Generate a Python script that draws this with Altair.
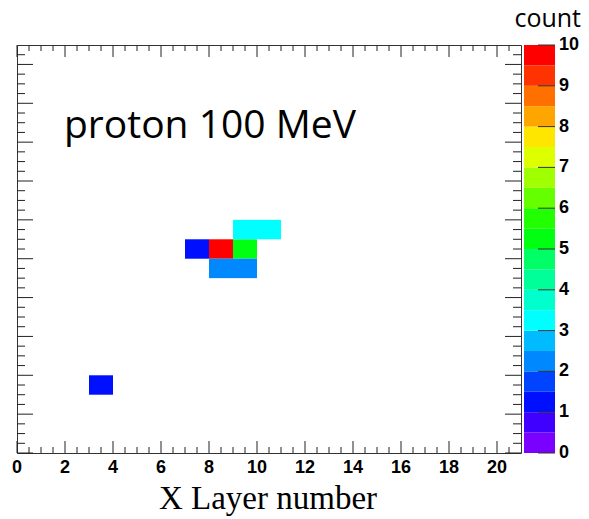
import altair as alt
import pandas as pd

# ---- data (histogram cells) ----
cell_x = [7, 8, 9, 9, 10, 8, 9, 3]
cell_y = [10, 10, 10, 11, 11, 9, 9, 3]
cell_count = [1, 10, 5, 3, 3, 2, 2, 1]

# ---- axis ticks ----
x_major = [0, 2, 4, 6, 8, 10, 12, 14, 16, 18, 20]
x_minor = [v / 2 for v in range(1, 42) if v % 4]
y_major = [0, 2, 4, 6, 8, 10, 12, 14, 16, 18, 20]
y_minor = [v / 2 for v in range(1, 42) if v % 4]
x_title = "X Layer number"
annotation = "proton 100 MeV"
z_title = "count"

# ---- colour palette (20 levels 0..10) ----
cbar_levels = [0, 0.5, 1, 1.5, 2, 2.5, 3, 3.5, 4, 4.5, 5, 5.5, 6, 6.5, 7, 7.5, 8, 8.5, 9, 9.5]
cbar_colors = ["#7a00ff", "#4000ff", "#0010ff", "#0044ff", "#0088ff", "#00bbff",
               "#00ffff", "#00ffcc", "#00ff99", "#00ff66", "#00ff11", "#22ff00",
               "#66ff00", "#a0ff00", "#ddff00", "#ffe600", "#ffa500", "#ff7000",
               "#ff3300", "#ff0000"]
cbar_ticks = [0, 1, 2, 3, 4, 5, 6, 7, 8, 9, 10]

W, H = 504, 408
CBW = 31
TICK = "#222222"
LBL_FONT = "Liberation Sans"
LBL_SIZE = 18

cells = pd.DataFrame({"x0": cell_x, "y0": cell_y, "count": cell_count})
cells["x1"] = cells["x0"] + 1
cells["y1"] = cells["y0"] + 1

xs = alt.Scale(domain=[0, 21], nice=False, zero=False)
ys = alt.Scale(domain=[0, 21], nice=False, zero=False)
cs = alt.Scale(type="threshold", domain=cbar_levels[1:], range=cbar_colors)

rects = alt.Chart(cells).mark_rect(strokeWidth=0).encode(
    x=alt.X("x0:Q", scale=xs, axis=None),
    x2="x1:Q",
    y=alt.Y("y0:Q", scale=ys, axis=None),
    y2="y1:Q",
    color=alt.Color("count:Q", scale=cs, legend=None),
)

def xticks(vals, length, top):
    d = pd.DataFrame({"v": vals})
    if top:
        enc = dict(y=alt.value(0), y2=alt.value(length))
    else:
        enc = dict(y=alt.value(H), y2=alt.value(H - length))
    return alt.Chart(d).mark_rule(color=TICK, strokeWidth=1).encode(
        x=alt.X("v:Q", scale=xs, axis=None), **enc)

def yticks(vals, length, right):
    d = pd.DataFrame({"v": vals})
    if right:
        enc = dict(x=alt.value(W), x2=alt.value(W - length))
    else:
        enc = dict(x=alt.value(0), x2=alt.value(length))
    return alt.Chart(d).mark_rule(color=TICK, strokeWidth=1).encode(
        y=alt.Y("v:Q", scale=ys, axis=None), **enc)

xlab_df = pd.DataFrame({"v": x_major, "lab": [str(v) for v in x_major]})
xlabels = alt.Chart(xlab_df).mark_text(
    font=LBL_FONT, fontWeight="bold", fontSize=LBL_SIZE, baseline="top",
    align="center", color="black"
).encode(x=alt.X("v:Q", scale=xs, axis=None), y=alt.value(H + 6), text="lab:N")

xtitle = alt.Chart(pd.DataFrame({"t": [x_title]})).mark_text(
    font="Liberation Serif", fontSize=33, align="center", baseline="alphabetic",
    color="black"
).encode(text="t:N", x=alt.value(251), y=alt.value(H + 56))

label = alt.Chart(pd.DataFrame({"t": [annotation]})).mark_text(
    font="Open Sans", fontSize=39, align="left", baseline="alphabetic", color="black"
).encode(text="t:N", x=alt.value(47), y=alt.value(93))

main = alt.layer(
    rects,
    xticks(x_major, 12, False), xticks(x_minor, 6, False),
    xticks(x_major, 12, True), xticks(x_minor, 6, True),
    yticks(y_major, 16, False), yticks(y_minor, 8, False),
    yticks(y_major, 16, True), yticks(y_minor, 8, True),
    xlabels, xtitle, label,
).properties(width=W, height=H,
             view=alt.ViewBackground(stroke="#333333", strokeWidth=1))

# ---- colour bar ----
bands = pd.DataFrame({"lo": cbar_levels})
bands["hi"] = bands["lo"] + 0.5
cys = alt.Scale(domain=[0, 10], nice=False, zero=False)

cb_rect = alt.Chart(bands).mark_rect(strokeWidth=0).encode(
    y=alt.Y("lo:Q", scale=cys, axis=None),
    y2="hi:Q",
    x=alt.value(0), x2=alt.value(CBW),
    color=alt.Color("lo:Q", scale=cs, legend=None),
)
cb_df = pd.DataFrame({"v": cbar_ticks, "lab": [str(v) for v in cbar_ticks]})
cb_ticks = alt.Chart(cb_df).mark_rule(color="#333333").encode(
    y=alt.Y("v:Q", scale=cys, axis=None), x=alt.value(CBW - 17), x2=alt.value(CBW))
cb_labels = alt.Chart(cb_df).mark_text(
    font=LBL_FONT, fontWeight="bold", fontSize=LBL_SIZE, baseline="middle",
    align="left", color="black"
).encode(y=alt.Y("v:Q", scale=cys, axis=None), x=alt.value(CBW + 4), text="lab:N")
cb_title = alt.Chart(pd.DataFrame({"t": [z_title]})).mark_text(
    font="Open Sans", fontSize=25, align="right", baseline="alphabetic", color="black"
).encode(text="t:N", x=alt.value(57), y=alt.value(-18))

cbar = alt.layer(cb_rect, cb_ticks, cb_labels, cb_title).properties(
    width=CBW, height=H, view=alt.ViewBackground(stroke="transparent"))

chart = alt.hconcat(main, cbar, spacing=3, bounds="flush").properties(
    autosize=alt.AutoSizeParams(type="none"),
    padding={"left": 9, "top": 37, "right": 564, "bottom": 474},
    background="white",
).configure_view(stroke="transparent")

chart.save("out.html", embed_options={"renderer": "svg", "actions": False})
